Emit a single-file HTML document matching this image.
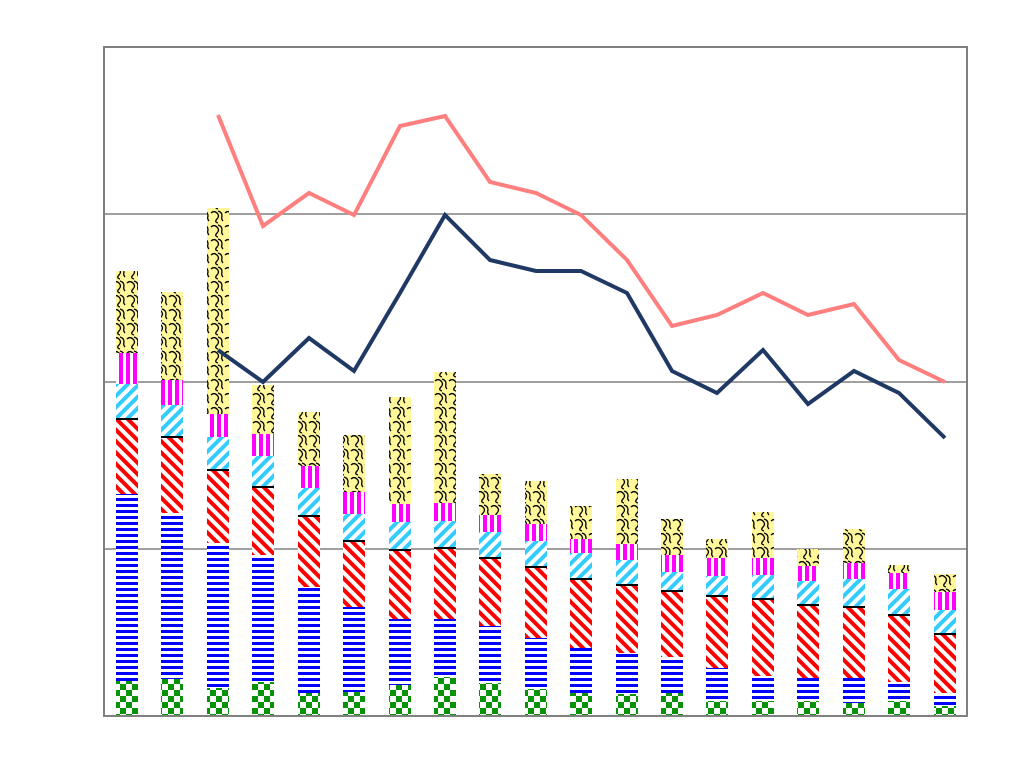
<!DOCTYPE html>
<html><head><meta charset="utf-8"><style>html,body{margin:0;padding:0;background:#fff}</style></head><body>
<svg width="1028" height="773" viewBox="0 0 1028 773" xmlns="http://www.w3.org/2000/svg">
<defs>
<pattern id="pg" width="12" height="12" patternUnits="userSpaceOnUse"><rect width="12" height="12" fill="#fff"/><rect width="6" height="6" fill="#079207"/><rect x="6" y="6" width="6" height="6" fill="#079207"/></pattern>
<pattern id="pb" width="6" height="6" patternUnits="userSpaceOnUse"><rect width="6" height="6" fill="#fff"/><rect width="6" height="3" fill="#0000ff"/></pattern>
<pattern id="pr" width="8" height="8" patternUnits="userSpaceOnUse" patternTransform="rotate(-45)"><rect width="8" height="8" fill="#fff"/><rect width="4" height="8" fill="#ff0000"/></pattern>
<pattern id="pc" width="8" height="8" patternUnits="userSpaceOnUse" patternTransform="rotate(45)"><rect width="8" height="8" fill="#fff"/><rect width="4" height="8" fill="#33ccff"/></pattern>
<pattern id="pm" width="7" height="7" patternUnits="userSpaceOnUse"><rect width="7" height="7" fill="#fff"/><rect width="4" height="7" fill="#ff00ff"/></pattern>
<pattern id="py" width="14" height="14" patternUnits="userSpaceOnUse"><rect width="14" height="14" fill="#fff799"/><path d="M1 3 Q4 0 7 3 Q10 6 7 9 Q4 12 8 13 M8 1 Q12 2 12 6 Q11 9 13 11" stroke="#000" stroke-width="1.3" fill="none"/></pattern>
</defs>
<rect x="104" y="47" width="863" height="669" fill="#fff" stroke="#808080" stroke-width="2"/>
<g stroke="#808080" stroke-width="1.5"><line x1="104" y1="214" x2="967" y2="214"/><line x1="104" y1="382" x2="967" y2="382"/><line x1="104" y1="549" x2="967" y2="549"/></g>
<g id="bars"></g>
<polyline fill="none" stroke="#ff7f7f" stroke-width="4" points="218,115 263,226 309,193 354,215 400,126 445,116 490,182 536,193 581,215 627,260 672,326 717,315 763,293 808,315 854,304 899,360 945,382"/>
<polyline fill="none" stroke="#1f3864" stroke-width="4" points="218,350 263,382 309,338 354,371 400,293 445,215 490,260 536,271 581,271 627,293 672,371 717,393 763,350 808,404 854,371 899,393 945,438"/>
<line x1="104" y1="716" x2="967" y2="716" stroke="#808080" stroke-width="2"/>
</svg>
<script>
var d=[[116,681,494,419,384,353,271],[161,679,513,437,405,380,292],[207,688,543,470,437,414,208],[252,682,555,487,456,434,385],[298,693,587,516,488,466,412],[343,692,607,541,514,492,435],[389,685,619,550,522,504,397],[434,677,619,548,521,503,372],[479,683,626,558,532,515,474],[525,689,638,567,541,524,481],[570,693,648,579,553,539,506],[616,694,653,585,560,544,479],[661,693,657,591,572,555,519],[706,701,668,596,576,558,539],[752,701,676,599,575,558,512],[797,701,678,605,581,566,549],[843,703,678,607,579,563,529],[888,701,682,615,589,573,565],[934,706,693,634,610,592,574]];
var f=['pg','pb','pr','pc','pm','py'],g=document.getElementById('bars'),s='';
d.forEach(function(b){var prev=716;for(var i=0;i<6;i++){var t=b[i+1];s+='<rect x="'+b[0]+'" y="'+t+'" width="22" height="'+(prev-t)+'" fill="url(#'+f[i]+')"/>';prev=t;}s+='<line x1="'+b[0]+'" x2="'+(b[0]+22)+'" y1="'+b[3]+'" y2="'+b[3]+'" stroke="#000" stroke-width="2"/>';});
g.innerHTML=s;
</script>
</body></html>
